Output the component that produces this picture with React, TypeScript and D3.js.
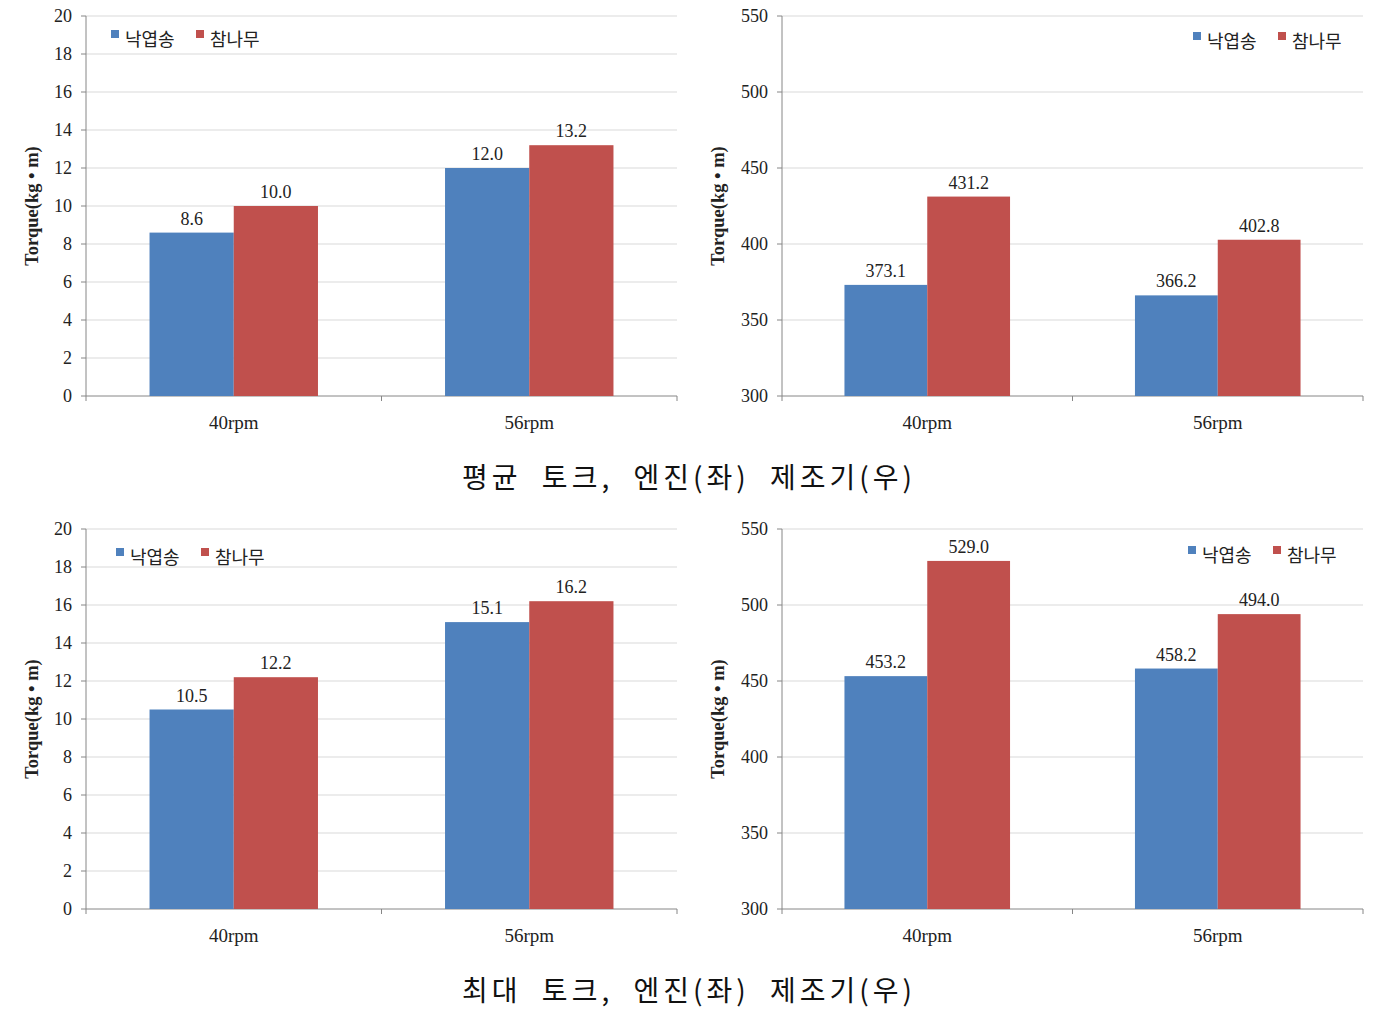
import React from "react";
import * as d3 from "d3";

const categories = ["40rpm", "56rpm"];
const seriesNames = ["낙엽송", "참나무"];
const avgEngine = [[8.6, 12.0], [10.0, 13.2]];
const avgMaker = [[373.1, 366.2], [431.2, 402.8]];
const maxEngine = [[10.5, 15.1], [12.2, 16.2]];
const maxMaker = [[453.2, 458.2], [529.0, 494.0]];
const engineTicks = [0, 2, 4, 6, 8, 10, 12, 14, 16, 18, 20];
const makerTicks = [300, 350, 400, 450, 500, 550];
const captions = ["평균 토크, 엔진(좌) 제조기(우)", "최대 토크, 엔진(좌) 제조기(우)"];
const yTitle = "Torque(kg • m)";
const colors = ["#4F81BD", "#C0504D"];

const serif = "'Liberation Serif', 'DejaVu Serif', serif";
const kfont = "'Noto Sans CJK KR', sans-serif";

type PanelProps = {
  x0: number; x1: number; y0: number; y1: number;
  domain: [number, number]; ticks: number[]; values: number[][];
  legendX: number; legendY: number; yTitleX: number;
};

function Panel({ x0, x1, y0, y1, domain, ticks, values, legendX, legendY, yTitleX }: PanelProps) {
  const y = d3.scaleLinear().domain(domain).range([y1, y0]);
  const xb = d3.scaleBand().domain(categories).range([x0, x1]).paddingInner(0).paddingOuter(0);
  const bw = xb.bandwidth();
  const groupW = bw * 0.57;
  const sub = d3.scaleBand().domain(seriesNames).range([0, groupW]);
  return (
    <g>
      {ticks.map((t) => (
        <g key={t}>
          {t !== domain[0] && (
            <line x1={x0} x2={x1} y1={y(t)} y2={y(t)} stroke="#d9d9d9" strokeWidth={1} />
          )}
          <line x1={x0 - 5} x2={x0} y1={y(t)} y2={y(t)} stroke="#868686" />
          <text x={x0 - 14} y={y(t)} dy="0.35em" textAnchor="end" fontFamily={serif} fontSize={18} fill="#222">
            {t}
          </text>
        </g>
      ))}
      <line x1={x0} x2={x0} y1={y0} y2={y1} stroke="#868686" />
      <line x1={x0} x2={x1} y1={y1} y2={y1} stroke="#868686" />
      {[x0, ...categories.map((c) => (xb(c) as number) + bw)].map((tx, i) => (
        <line key={i} x1={tx} x2={tx} y1={y1} y2={y1 + 5} stroke="#868686" />
      ))}
      {categories.map((c, ci) => {
        const gx = (xb(c) as number) + (bw - groupW) / 2;
        return (
          <g key={c}>
            {seriesNames.map((s, si) => {
              const v = values[si][ci];
              const bx = gx + (sub(s) as number);
              return (
                <g key={s}>
                  <rect x={bx} y={y(v)} width={sub.bandwidth()} height={y1 - y(v)} fill={colors[si]} />
                  <text x={bx + sub.bandwidth() / 2} y={y(v) - 8} textAnchor="middle" fontFamily={serif} fontSize={18} fill="#222">
                    {v.toFixed(1)}
                  </text>
                </g>
              );
            })}
            <text x={(xb(c) as number) + bw / 2} y={y1 + 33} textAnchor="middle" fontFamily={serif} fontSize={19} fill="#222">
              {c}
            </text>
          </g>
        );
      })}
      <text
        transform={`translate(${yTitleX},${(y0 + y1) / 2}) rotate(-90)`}
        textAnchor="middle" dy="0.35em" fontFamily={serif} fontSize={18.5} fontWeight="bold" fill="#222"
      >
        {yTitle}
      </text>
      {seriesNames.map((s, si) => (
        <g key={s} transform={`translate(${legendX + si * 85},${legendY})`}>
          <rect x={0} y={0} width={8} height={8} fill={colors[si]} />
          <text x={14} y={10} dy="0.35em" fontFamily={kfont} fontSize={18} fill="#222">{s}</text>
        </g>
      ))}
    </g>
  );
}

export default function App() {
  const off = 513;
  return (
    <svg width={1379} height={1015} style={{ position: "absolute", left: 0, top: 0, background: "#fff" }}>
      <rect width={1379} height={1015} fill="#fff" />
      <Panel x0={86} x1={677} y0={16} y1={396} domain={[0, 20]} ticks={engineTicks} values={avgEngine} legendX={111} legendY={30} yTitleX={32} />
      <Panel x0={782} x1={1363} y0={16} y1={396} domain={[300, 550]} ticks={makerTicks} values={avgMaker} legendX={1193} legendY={32} yTitleX={718} />
      <Panel x0={86} x1={677} y0={16 + off} y1={396 + off} domain={[0, 20]} ticks={engineTicks} values={maxEngine} legendX={116} legendY={548} yTitleX={32} />
      <Panel x0={782} x1={1363} y0={16 + off} y1={396 + off} domain={[300, 550]} ticks={makerTicks} values={maxMaker} legendX={1188} legendY={546} yTitleX={718} />
      {captions.map((c, i) => (
        <text key={i} x={689} y={478 + i * off} dy="0.35em" textAnchor="middle" fontFamily={kfont} fontSize={28} letterSpacing={4} wordSpacing={10} fill="#111">
          {c}
        </text>
      ))}
    </svg>
  );
}
